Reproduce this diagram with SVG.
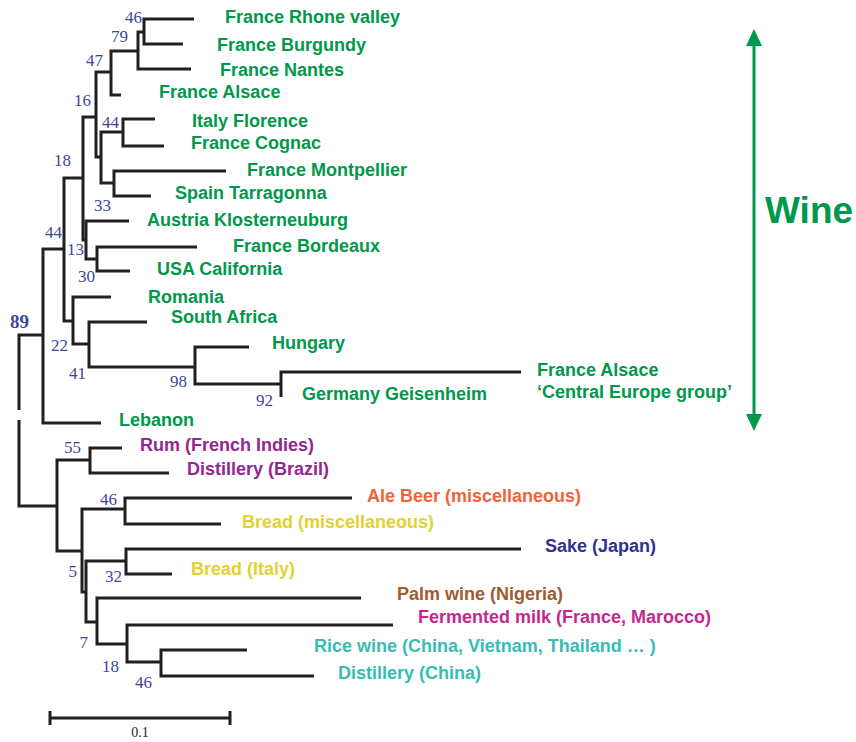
<svg xmlns="http://www.w3.org/2000/svg" width="856" height="742" viewBox="0 0 856 742">
<style>
.br{fill:none;stroke:#231f20;stroke-width:3;stroke-linejoin:miter}
.lb{font-family:"Liberation Sans",Arial,sans-serif;font-weight:bold;font-size:18px}
.g{fill:#00984a}
.bs{font-family:"Liberation Serif","Times New Roman",serif;font-size:17px;fill:#3b48a0;text-anchor:end}
</style>
<rect width="856" height="742" fill="#ffffff"/>
<g id="connectors">
<path class="br" d="M194 19 H144 V44 H183"/>
<path class="br" d="M144 32 H138 V69 H191"/>
<path class="br" d="M138 51 H111 V95 H121"/>
<path class="br" d="M155 119 H123 V146 H164"/>
<path class="br" d="M226 171 H114 V196 H151"/>
<path class="br" d="M123 132 H101 V183 H114"/>
<path class="br" d="M111 72 H96 V157 H101"/>
<path class="br" d="M197 247 H97 V271 H130"/>
<path class="br" d="M129 221 H86 V259 H97"/>
<path class="br" d="M96 117 H83 V240 H86"/>
<path class="br" d="M521 372 H281 V397"/>
<path class="br" d="M249 347 H195 V384 H281"/>
<path class="br" d="M147 322 H89 V367 H195"/>
<path class="br" d="M111 297 H73 V344 H89"/>
<path class="br" d="M83 178 H64 V321 H73"/>
<path class="br" d="M64 249 H43 V423 H101"/>
<path class="br" d="M43 335 H19 V410 M19 420 V506 H57"/>
<path class="br" d="M122 448 H90 V473 H169"/>
<path class="br" d="M90 460 H57 V551 H82"/>
<path class="br" d="M352 498 H125 V524 H221"/>
<path class="br" d="M521 549 H126 V574 H172"/>
<path class="br" d="M247 650 H161 V676 H314"/>
<path class="br" d="M393 625 H127 V662 H161"/>
<path class="br" d="M361 598 H97 V644 H127"/>
<path class="br" d="M126 561 H86 V622 H97"/>
<path class="br" d="M125 509 H82 V592 H86"/>
</g>
<g id="leaves" class="lb">
<g id="france-rhone"><text class="g" x="225" y="23">France Rhone valley</text></g>
<g id="france-burgundy"><text class="g" x="217" y="51">France Burgundy</text></g>
<g id="france-nantes"><text class="g" x="220" y="76">France Nantes</text></g>
<g id="france-alsace"><text class="g" x="159" y="98">France Alsace</text></g>
<g id="italy-florence"><text class="g" x="192" y="127">Italy Florence</text></g>
<g id="france-cognac"><text class="g" x="191" y="149">France Cognac</text></g>
<g id="france-montpellier"><text class="g" x="247" y="176">France Montpellier</text></g>
<g id="spain-tarragonna"><text class="g" x="175" y="199">Spain Tarragonna</text></g>
<g id="austria"><text class="g" x="147" y="226">Austria Klosterneuburg</text></g>
<g id="france-bordeaux"><text class="g" x="233" y="252">France Bordeaux</text></g>
<g id="usa-california"><text class="g" x="157" y="275">USA California</text></g>
<g id="romania"><text class="g" x="148" y="303">Romania</text></g>
<g id="south-africa"><text class="g" x="171" y="323">South Africa</text></g>
<g id="hungary"><text class="g" x="272" y="349">Hungary</text></g>
<g id="france-alsace-ce"><text class="g" x="537" y="376">France Alsace</text><text class="g" x="537" y="398">‘Central Europe group’</text></g>
<g id="germany"><text class="g" x="302" y="400">Germany Geisenheim</text></g>
<g id="lebanon"><text class="g" x="119" y="426">Lebanon</text></g>
<g id="rum"><text x="140" y="451" fill="#93278f">Rum (French Indies)</text></g>
<g id="distillery-brazil"><text x="187" y="475" fill="#93278f">Distillery (Brazil)</text></g>
<g id="ale-beer"><text x="367" y="502" fill="#f1623a">Ale Beer (miscellaneous)</text></g>
<g id="bread-misc"><text x="242" y="528" fill="#e3d130">Bread (miscellaneous)</text></g>
<g id="sake"><text x="545" y="552" fill="#2e3192">Sake (Japan)</text></g>
<g id="bread-italy"><text x="191" y="575" fill="#e3d130">Bread (Italy)</text></g>
<g id="palm-wine"><text x="397" y="600" fill="#a35a2e">Palm wine (Nigeria)</text></g>
<g id="fermented-milk"><text x="418" y="623" fill="#c4288c">Fermented milk (France, Marocco)</text></g>
<g id="rice-wine"><text x="314" y="652" fill="#36bdb3">Rice wine (China, Vietnam, Thailand … )</text></g>
<g id="distillery-china"><text x="338" y="679" fill="#36bdb3">Distillery (China)</text></g>
</g>
<g id="bootstrap">
<text class="bs" x="142" y="23">46</text>
<text class="bs" x="128" y="42">79</text>
<text class="bs" x="103" y="66">47</text>
<text class="bs" x="91" y="106">16</text>
<text class="bs" x="119" y="128">44</text>
<text class="bs" x="71" y="166">18</text>
<text class="bs" x="111" y="211">33</text>
<text class="bs" x="62" y="238">44</text>
<text class="bs" x="84" y="255">13</text>
<text class="bs" x="95" y="282">30</text>
<text class="bs" x="29" y="328" style="font-weight:bold;font-size:19px">89</text>
<text class="bs" x="68" y="351">22</text>
<text class="bs" x="86" y="379">41</text>
<text class="bs" x="187" y="387">98</text>
<text class="bs" x="273" y="406">92</text>
<text class="bs" x="81" y="453">55</text>
<text class="bs" x="117" y="505">46</text>
<text class="bs" x="77" y="577">5</text>
<text class="bs" x="122" y="582">32</text>
<text class="bs" x="88" y="648">7</text>
<text class="bs" x="119" y="672">18</text>
<text class="bs" x="152" y="688">46</text>
</g>
<g id="wine-range">
<line x1="754" y1="45" x2="754" y2="415" stroke="#00984a" stroke-width="3"/>
<path d="M754 29 L762 46 L746 46 Z" fill="#00984a"/>
<path d="M754 431 L762 414 L746 414 Z" fill="#00984a"/>
<text class="lb g" x="765" y="223" style="font-size:37px">Wine</text>
</g>
<g id="scale-bar">
<path class="br" d="M50 718 H230 M50 711 V725 M230 711 V725"/>
<text x="140" y="737" text-anchor="middle" style="font-family:'Liberation Serif',serif;font-size:14px;fill:#231f20">0.1</text>
</g>
</svg>
